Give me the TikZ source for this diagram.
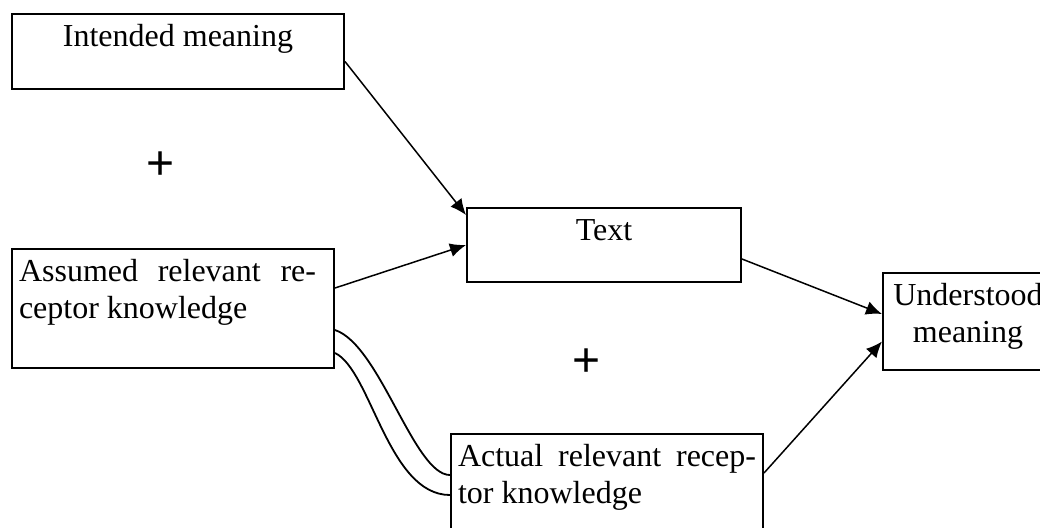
\documentclass[tikz,border=0pt]{standalone}
\usepackage{fontspec}
\setmainfont{Liberation Serif}
\newfontfamily\plusfont{Liberation Sans}
\usetikzlibrary{arrows.meta}

\begin{document}
\begin{tikzpicture}[x=0.5pt,y=-0.5pt,
  wordbox/.style={draw,line width=1pt,inner sep=3.5pt,anchor=north west,font=\fontsize{16}{18.5}\selectfont},
  link/.style={line width=0.75pt,-{Latex[length=8pt,width=7pt]}},
  wobble/.style={line width=0.9pt},
  plus/.style={font=\plusfont\fontsize{24}{24}\selectfont}]
\clip (0,0) rectangle (1040,527);
\node[wordbox] (intended) at (11,13) {\parbox[t][30.5pt][t]{159pt}{\centering\strut Intended meaning}};
\node[wordbox] (assumed) at (11,248) {\parbox[t][52.5pt][t]{154pt}{\rightskip=5.5pt\strut Assumed relevant re-\linebreak ceptor knowledge}};
\node[wordbox] (textbox) at (466,207) {\parbox[t][30pt][t]{130pt}{\centering\strut Text}};
\node[wordbox] (understood) at (882,272) {\parbox[t][41.5pt][t]{78pt}{\centering\strut Understood\\meaning}};
\node[wordbox] (actual) at (450,433) {\parbox[t][46.5pt][t]{149pt}{\strut Actual relevant recep-\linebreak tor knowledge}};
\node[plus] (plusa) at (161,166) {+};
\node[plus] (plusb) at (587,363) {+};
\draw[link] ([yshift=-5pt]intended.east) -- ([yshift=-4pt]textbox.north west);
\draw[link] ([yshift=-20pt]assumed.north east) -- (textbox.west);
\draw[link] ([yshift=-7pt]textbox.east) -- ([yshift=3.75pt]understood.west);
\draw[link] ([yshift=-20pt]actual.north east) -- ([yshift=-10pt]understood.west);
\draw[wobble] ([yshift=-41pt]assumed.north east) .. controls +(45,15) and +(-36,0) .. ([yshift=-21pt]actual.north west);
\draw[wobble] ([yshift=-52.5pt]assumed.north east) .. controls +(36,17) and +(-62,0) .. ([yshift=-31pt]actual.north west);
\end{tikzpicture}
\end{document}
